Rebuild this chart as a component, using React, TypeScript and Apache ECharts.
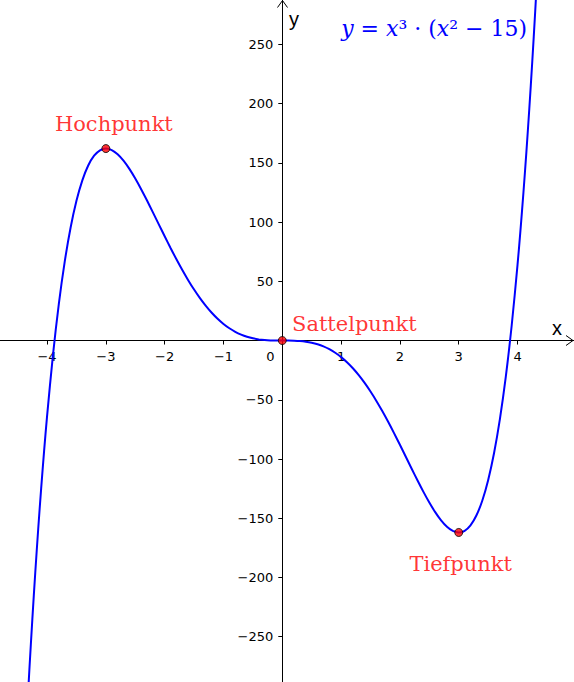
import React, { useEffect, useRef } from "react";
import * as echarts from "echarts";

const curveX = [
  -4.4, -4.35, -4.3, -4.25, -4.2, -4.15, -4.1, -4.05, -4.0, -3.9, -3.8, -3.7, -3.6, -3.5, -3.4, -3.3, -3.2, -3.1, -3.0,
  -2.9, -2.8, -2.7, -2.6, -2.5, -2.4, -2.3, -2.2, -2.1, -2.0, -1.9, -1.8, -1.7, -1.6, -1.5, -1.4, -1.3, -1.2,
  -1.1, -1.0, -0.9, -0.8, -0.7, -0.6, -0.5, -0.4, -0.3, -0.2, -0.1, 0.0, 0.1, 0.2, 0.3, 0.4, 0.5, 0.6, 0.7, 0.8,
  0.9, 1.0, 1.1, 1.2, 1.3, 1.4, 1.5, 1.6, 1.7, 1.8, 1.9, 2.0, 2.1, 2.2, 2.3, 2.4, 2.5, 2.6, 2.7, 2.8, 2.9, 3.0,
  3.1, 3.2, 3.3, 3.4, 3.5, 3.6, 3.7, 3.8, 3.9, 4.0, 4.05, 4.1, 4.15, 4.2, 4.25, 4.3, 4.35, 4.4,
];
const curveY = [
  -371.4, -322.87, -277.48, -235.09, -195.59, -158.85, -124.75, -93.17, -64.0, -12.46, 30.73, 66.36, 95.18, 117.91, 135.21, 147.7, 155.98, 160.57, 162.0,
  160.72, 157.18, 151.76, 144.83, 136.72, 127.73, 118.14, 108.18, 98.07, 88.0, 78.12, 68.58, 59.5, 50.95, 43.03, 35.78, 29.24, 23.43,
  18.35, 14.0, 10.34, 7.35, 4.98, 3.16, 1.84, 0.95, 0.4, 0.12, 0.015, 0.0, -0.015, -0.12, -0.4, -0.95, -1.84, -3.16, -4.98, -7.35,
  -10.34, -14.0, -18.35, -23.43, -29.24, -35.78, -43.03, -50.95, -59.5, -68.58, -78.12, -88.0, -98.07, -108.18, -118.14, -127.73, -136.72, -144.83, -151.76, -157.18, -160.72, -162.0,
  -160.57, -155.98, -147.7, -135.21, -117.91, -95.18, -66.36, -30.73, 12.46, 64.0, 93.17, 124.75, 158.85, 195.59, 235.09, 277.48, 322.87, 371.4,
];

const pointNames = ["Hochpunkt", "Sattelpunkt", "Tiefpunkt"];
const pointX = [-3, 0, 3];
const pointY = [162, 0, -162];

const xTicks = [-4, -3, -2, -1, 0, 1, 2, 3, 4];
const yTicks = [-250, -200, -150, -100, -50, 50, 100, 150, 200, 250];

const X_MIN = -4.8;
const X_MAX = 4.96;
const Y_MIN = -288.2;
const Y_MAX = 287.4;

const W = 574;
const H = 682;

const fmtNum = (v: number) => (v < 0 ? "\u2212" + Math.abs(v) : String(v));

export default function App() {
  const ref = useRef<HTMLDivElement>(null);

  useEffect(() => {
    if (!ref.current) return;
    const chart = echarts.init(ref.current, null, { renderer: "svg" });

    const labelOffsets: Record<string, number[]> = {
      Hochpunkt: [8, -25],
      Sattelpunkt: [72, -17],
      Tiefpunkt: [2, 32],
    };

    // pixel position of the zero lines inside the full-size grid
    const zeroX = ((0 - X_MIN) / (X_MAX - X_MIN)) * W;
    const zeroY = ((Y_MAX - 0) / (Y_MAX - Y_MIN)) * H;

    const serif = "DejaVu Serif";
    const tickFont = "DejaVu Sans";

    chart.setOption({
      animation: false,
      backgroundColor: "#ffffff",
      grid: { left: 0, right: 0, top: 0, bottom: 0, containLabel: false, outerBoundsMode: "none" },
      xAxis: {
        type: "value",
        position: "bottom",
        offset: -(H - zeroY),
        min: X_MIN,
        max: X_MAX,
        axisLine: { onZero: false, lineStyle: { color: "#000", width: 1 } },
        axisTick: { show: true, length: 4, customValues: xTicks.filter((v) => v !== 0), lineStyle: { color: "#000" } },
        axisLabel: {
          customValues: xTicks,
          margin: 9,
          color: "#000",
          fontFamily: tickFont,
          fontSize: 13,
          hideOverlap: false,
          formatter: (v: number) => (v === 0 ? "{z|0}" : fmtNum(v)),
          rich: { z: { padding: [0, 24, 0, 0], fontFamily: tickFont, fontSize: 13, color: "#000" } },
        },
        splitLine: { show: false },
      },
      yAxis: {
        type: "value",
        position: "left",
        offset: -zeroX,
        min: Y_MIN,
        max: Y_MAX,
        axisLine: { onZero: false, lineStyle: { color: "#000", width: 1 } },
        axisTick: { show: true, length: 4, customValues: yTicks, lineStyle: { color: "#000" } },
        axisLabel: {
          customValues: yTicks,
          margin: 9,
          color: "#000",
          fontFamily: tickFont,
          fontSize: 13,
          hideOverlap: false,
          formatter: (v: number) => fmtNum(v),
        },
        splitLine: { show: false },
      },
      series: [
        {
          type: "line",
          data: curveX.map((x, i) => [x, curveY[i]]),
          showSymbol: false,
          smooth: 0.3,
          clip: true,
          lineStyle: { color: "#0000ff", width: 2 },
          silent: true,
          z: 2,
        },
        {
          type: "scatter",
          data: pointX.map((x, i) => ({
            value: [x, pointY[i]],
            name: pointNames[i],
            label: {
              show: true,
              formatter: pointNames[i],
              position: "inside",
              offset: labelOffsets[pointNames[i]],
              color: "#ff0000",
              fontFamily: serif,
              fontSize: 21,
            },
          })),
          symbol: "circle",
          symbolSize: 8,
          itemStyle: { color: "#ff0000", borderColor: "#000", borderWidth: 1 },
          z: 5,
        },
      ],
      graphic: [
        {
          type: "polyline",
          shape: { points: [[566, 335.5], [573, 340.5], [566, 345.5]] },
          style: { stroke: "#000", lineWidth: 1, fill: "none" },
        },
        {
          type: "polyline",
          shape: { points: [[277.5, 7.5], [282.5, 0.5], [287.5, 7.5]] },
          style: { stroke: "#000", lineWidth: 1, fill: "none" },
        },
        {
          type: "text",
          x: 557,
          y: 328,
          style: { text: "x", fontFamily: "Liberation Sans", fontSize: 20, fill: "#000", align: "center", verticalAlign: "middle" },
        },
        {
          type: "text",
          x: 294,
          y: 19,
          style: { text: "y", fontFamily: "Liberation Sans", fontSize: 20, fill: "#000", align: "center", verticalAlign: "middle" },
        },
        {
          type: "text",
          x: 527,
          y: 28,
          style: {
            text: "{i|y}{n| = }{i|x}{n|³ · (}{i|x}{n|² − 15)}",
            align: "right",
            verticalAlign: "middle",
            rich: {
              i: { fontFamily: serif, fontStyle: "italic", fontSize: 22, fill: "#0000ff", color: "#0000ff" },
              n: { fontFamily: serif, fontSize: 22, fill: "#0000ff", color: "#0000ff" },
            },
          },
        },
      ],
    });

    return () => chart.dispose();
  }, []);

  return (
    <div
      ref={ref}
      style={{ position: "absolute", left: 0, top: 0, width: W, height: H }}
    />
  );
}
